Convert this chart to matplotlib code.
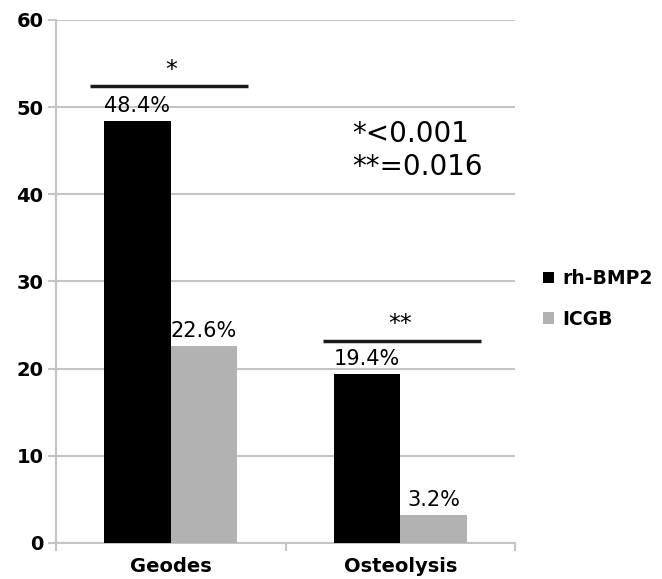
import matplotlib.pyplot as plt
import numpy as np

categories = ["Geodes", "Osteolysis"]
series_names = ["rh-BMP2", "ICGB"]
rh_bmp2 = [48.4, 19.4]
icgb = [22.6, 3.2]
sig_marks = ["*", "**"]
sig_heights = [52.4, 23.2]
p_text = "*<0.001\n**=0.016"

colors = ["#000000", "#b2b2b2"]
grid_col = "#c4c4c4"

fig = plt.figure(figsize=(6.62, 5.79), dpi=100)
ax = fig.add_axes([0.0846, 0.0622, 0.6934, 0.9033])

x = np.arange(len(categories))
w = 0.29
b1 = ax.bar(x - w / 2, rh_bmp2, w, color=colors[0], label=series_names[0], zorder=3)
b2 = ax.bar(x + w / 2, icgb, w, color=colors[1], label=series_names[1], zorder=3)

for bars, vals in [(b1, rh_bmp2), (b2, icgb)]:
    for r, v in zip(bars, vals):
        ax.text(r.get_x() + r.get_width() / 2, v + 0.6, f"{v}%", ha="center", va="bottom",
                fontsize=15, family="DejaVu Sans", zorder=4)

# significance bars (line extents relative to the group centre)
line_ext = [(-0.35, 0.335), (-0.335, 0.35)]
for xi, h, m, (l, r) in zip(x, sig_heights, sig_marks, line_ext):
    ax.plot([xi + l, xi + r], [h, h], color="#1a1a1a", lw=2.5, zorder=4, solid_capstyle="butt")
    ax.text(xi, h + 0.5, m, ha="center", va="bottom", fontsize=17, family="DejaVu Sans")

ax.text(0.79, 45.0, p_text, ha="left", va="center", fontsize=20, family="DejaVu Sans", linespacing=1.25)

ax.set_xlim(-0.5, 1.5)
ax.set_ylim(0, 60)
ax.set_yticks(range(0, 61, 10))
ax.yaxis.grid(True, color=grid_col, lw=1.5, zorder=0)
ax.set_axisbelow(True)

ax.set_xticks(x)
ax.set_xticklabels(categories)
ax.set_xticks([-0.5, 0.5, 1.5], minor=True)
ax.tick_params(axis="x", which="major", length=0, pad=10)
ax.tick_params(axis="x", which="minor", length=6, color=grid_col, width=1.5)
ax.tick_params(axis="y", length=6, color=grid_col, width=1.5, pad=3)
for lab in ax.get_xticklabels() + ax.get_yticklabels():
    lab.set_fontweight("bold")
    lab.set_fontsize(14)
    lab.set_family("DejaVu Sans")

for s in ["top", "right"]:
    ax.spines[s].set_visible(False)
for s in ["left", "bottom"]:
    ax.spines[s].set_color(grid_col)
    ax.spines[s].set_linewidth(1.5)

leg = ax.legend(loc="center left", bbox_to_anchor=(1.025, 0.467), frameon=False,
                handlelength=0.55, handleheight=0.55, handletextpad=0.45, labelspacing=1.15,
                prop={"family": "DejaVu Sans", "weight": "bold", "size": 13.5})

fig.savefig("out.png", dpi=100)
